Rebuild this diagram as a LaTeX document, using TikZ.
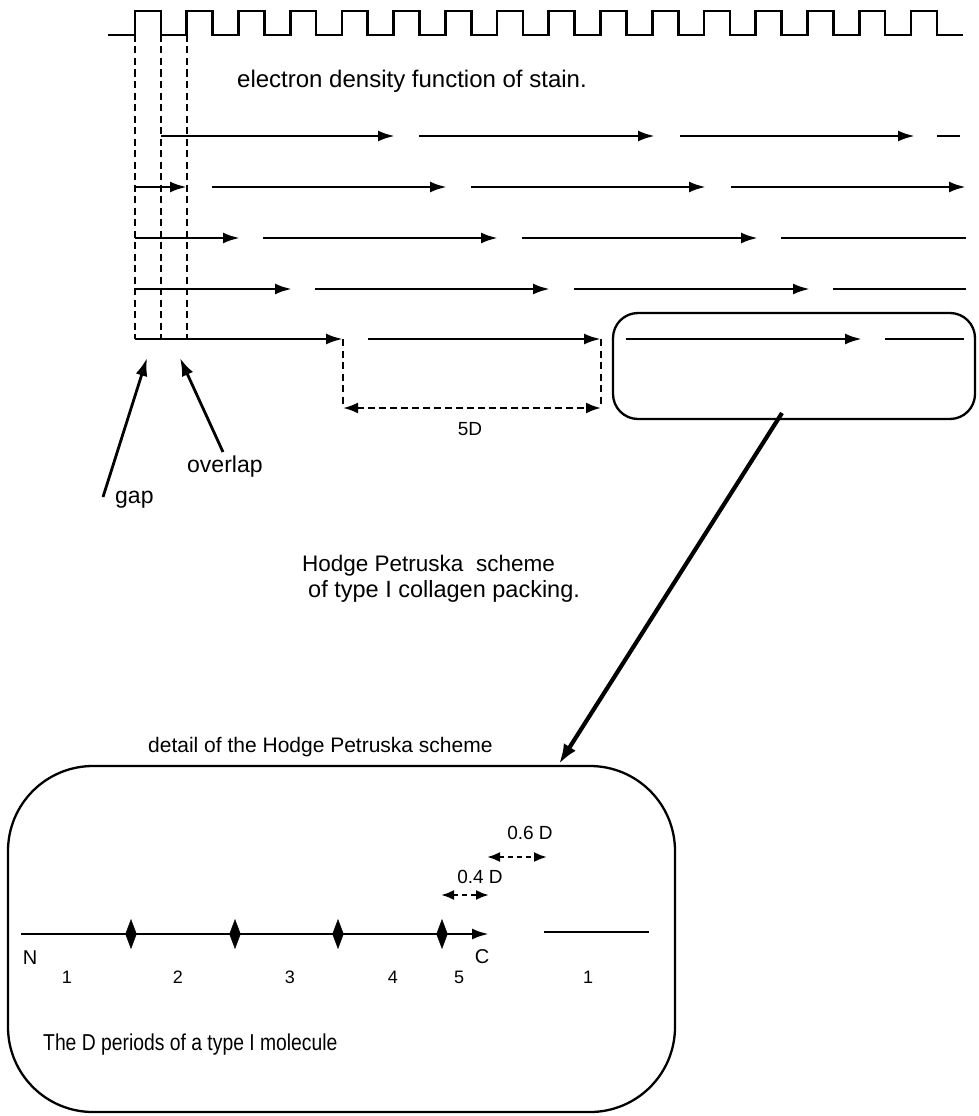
\documentclass[tikz,border=0pt]{standalone}
\usepackage{fontspec}
\setmainfont{Liberation Sans}
\usetikzlibrary{arrows.meta,shapes.geometric}
\begin{document}
\begin{tikzpicture}[x=1pt,y=-1pt,
  wave/.style={line width=2.7pt},
  mol/.style={line width=2.8pt,-{Latex[length=17pt,width=11pt]}},
  seg/.style={line width=2.8pt},
  guide/.style={line width=2.3pt,dash pattern=on 7pt off 4.5pt},
  dim/.style={line width=2.5pt,dash pattern=on 7pt off 4pt,
    {Latex[length=15pt,width=11pt]}-{Latex[length=15pt,width=11pt]}},
  smalldim/.style={line width=2.3pt,dash pattern=on 5pt off 4pt,
    {Latex[length=13pt,width=10pt]}-{Latex[length=13pt,width=10pt]}},
  frame/.style={draw,line width=2.3pt,inner sep=0pt},
  pointer/.style={line width=2.8pt,-{Latex[length=18pt,width=12pt]}},
  bigpointer/.style={line width=4.2pt,-{Latex[length=20pt,width=14pt]}},
  band/.style={diamond,fill=black,draw=black,inner sep=0pt,minimum width=11pt,minimum height=29pt},
  caption/.style={inner sep=0pt,anchor=base west,font=\fontsize{23}{27}\selectfont},
  label/.style={inner sep=0pt,font=\fontsize{19}{22}\selectfont},
  num/.style={inner sep=0pt,font=\fontsize{18}{21}\selectfont}
]
\useasboundingbox (0,0) rectangle (979,1116);

% staining pattern: square wave with period D
\draw[wave] (108,35) \foreach \k in {0,...,15} {
  -- ({135+51.73*\k},35) |- ({160.9+51.73*\k},11) |- ({186.7+51.73*\k},35) };

\node[caption,font=\fontsize{24}{28}\selectfont] (stain) at (237,88) {electron density function of stain.};

% staggered molecules, one row per D shift
\foreach \y/\a/\b/\t [count=\i] in {
  136/161/395/mol, 136/419/655/mol, 136/680/915/mol, 136/937/960/seg,
  187/135/187/mol, 187/212/447/mol, 187/471/706/mol, 187/731/966/mol,
  238/135/240/mol, 238/263/498/mol, 238/522/758/mol, 238/781/966/seg,
  289/135/292/mol, 289/315/550/mol, 289/574/810/mol, 289/833/966/seg,
  339/135/343/mol, 339/368/601/mol, 339/626/862/mol, 339/885/964/seg} {
  \coordinate (m\i s) at (\a,\y);
  \coordinate (m\i e) at (\b,\y);
  \draw[\t] (m\i s) -- (m\i e);
}

% gap / overlap boundaries
\foreach \x [count=\i] in {135,161,187} {
  \coordinate (v\i top) at (\x,35);
  \coordinate (v\i bot) at (\x,339);
  \draw[guide] (v\i top) -- (v\i bot);
}

% 5D repeat
\coordinate (r1) at (343,339);
\coordinate (r1b) at (343,408);
\coordinate (r2) at (601,339);
\coordinate (r2b) at (601,408);
\draw[guide] (r1) -- (r1b);
\draw[guide] (r2) -- (r2b);
\draw[dim] (r1b) -- (r2b);
\node[label] (fiveD) at (470,429) {5D};

% gap and overlap pointers
\node[caption] (gap) at (115,503) {gap};
\node[caption] (overlap) at (187,472) {overlap};
\coordinate (gapfrom) at (103,497);
\coordinate (gapto) at (147,358);
\coordinate (ovfrom) at (223,452);
\coordinate (ovto) at (180,358);
\draw[pointer] (gapfrom) -- (gapto);
\draw[pointer] (ovfrom) -- (ovto);

% enlarged region
\node[frame,rounded corners=25pt,minimum width=362pt,minimum height=106pt] (zoombox) at (794,366) {};

\node[caption,font=\fontsize{22.5}{27}\selectfont] (hp1) at (302,571) {Hodge Petruska\ \ scheme};
\node[caption,font=\fontsize{23.5}{27}\selectfont] (hp2) at (308,597) {of type I collagen packing.};

\node[caption,font=\fontsize{21}{25}\selectfont] (detail) at (148,752) {detail of the Hodge Petruska scheme};

\node[frame,rounded corners=85pt,minimum width=667pt,minimum height=346pt] (detailbox) at (341.5,939) {};

\coordinate (bigstart) at (782,413);
\coordinate (bigend) at (559,764);
\draw[bigpointer] (bigstart) -- (bigend);

% one molecule divided into D periods
\coordinate (nterm) at (21,934);
\coordinate (cterm) at (489,934);
\draw[mol] (nterm) -- (cterm);
\foreach \x [count=\i] in {131,235,338,442} {
  \node[band] (b\i) at (\x,934) {};
}
\coordinate (next1) at (544,932);
\coordinate (next2) at (649,932);
\draw[seg] (next1) -- (next2);

\coordinate (sixa) at (487,857);
\coordinate (sixb) at (547,857);
\draw[smalldim] (sixa) -- (sixb);
\node[label] (six) at (530,833) {0.6 D};
\coordinate (foura) at (441,895);
\coordinate (fourb) at (489,895);
\draw[smalldim] (foura) -- (fourb);
\node[label] (four) at (480,877) {0.4 D};

\node[label,font=\fontsize{20}{24}\selectfont] (N) at (30,958) {N};
\node[label,font=\fontsize{20}{24}\selectfont] (C) at (482,957) {C};
\foreach \x/\t [count=\i] in {67/1,178/2,290/3,393/4,459/5,588/1} {
  \node[num] (d\i) at (\x,977) {\t};
}

\node[caption] (periods) at (43,1050) {\scalebox{0.84}[1]{\fontsize{23}{27}\selectfont The D periods of a type I molecule}};
\end{tikzpicture}
\end{document}
